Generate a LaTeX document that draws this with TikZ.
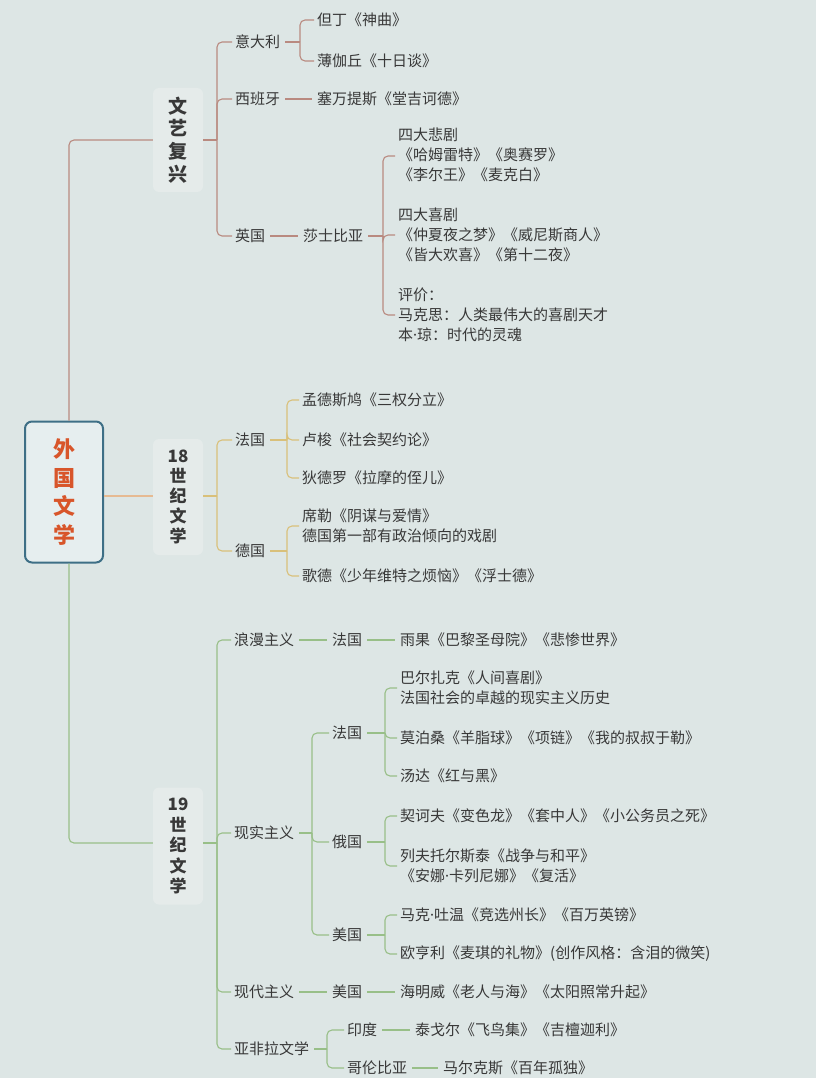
\documentclass[tikz,border=0pt]{standalone}
\usepackage{fontspec}
\setmainfont{Noto Sans CJK SC}
\newfontfamily\latf{Noto Sans}
\newcommand{\mdot}{{\latf\char"00B7}}
\definecolor{bg}{HTML}{DDE6E5}
\definecolor{txt}{HTML}{383838}
\definecolor{redl}{HTML}{B98A80}
\definecolor{yell}{HTML}{D9C07A}
\definecolor{orgl}{HTML}{E6BA92}
\definecolor{grnl}{HTML}{98BF88}
\definecolor{rootb}{HTML}{3E6F86}
\definecolor{rootf}{HTML}{E6EEEF}
\definecolor{roott}{HTML}{D8552A}
\definecolor{boxf}{HTML}{E5EBEA}
\begin{document}
\begin{tikzpicture}[x=1pt,y=-1pt,
 t/.style={anchor=west,inner xsep=3pt,inner ysep=1pt,font=\fontsize{15}{20}\selectfont,text=txt,align=left},
 cat/.style={fill=boxf,rounded corners=6pt,minimum width=50pt,text=txt,align=center,inner sep=0pt},
 rl/.style={draw=redl,line width=1.1pt,rounded corners=5pt},
 yl/.style={draw=yell,line width=1.1pt,rounded corners=5pt},
 gl/.style={draw=grnl,line width=1.1pt,rounded corners=5pt},
 sh/.style={shorten <=2pt,shorten >=2pt}
]
\fill[bg] (0,0) rectangle (816,1078);
\useasboundingbox (0,0) rectangle (816,1078);

% root
\node[draw=rootb,line width=2pt,fill=rootf,rounded corners=7pt,minimum width=78pt,minimum height=141pt,
  text=roott,font=\bfseries\fontsize{22}{28.5}\selectfont,align=center,inner sep=0pt] (root) at (64,492) {外\\国\\文\\学};

% categories
\node[cat,minimum height=104pt,font=\bfseries\fontsize{19}{22.7}\selectfont] (wyfx) at (178,140) {文\\艺\\复\\兴};
\node[cat,minimum height=116pt,font=\bfseries\fontsize{17}{20}\selectfont] (s18) at (178,497) {18\\世\\纪\\文\\学};
\node[cat,minimum height=117pt,font=\bfseries\fontsize{17}{20.5}\selectfont] (s19) at (178,846) {19\\世\\纪\\文\\学};

% trunk
\draw[rl] ([xshift=5pt]root.north) |- (wyfx.west);
\draw[draw=orgl,line width=1.1pt] ([yshift=1pt]root.east |- s18.west) -- ([yshift=1pt]s18.west);
\draw[gl] ([xshift=5pt]root.south) |- ([yshift=3pt]s19.west);

% ---------- Renaissance ----------
\node[t] (ydl) at (232,42) {意大利};
\node[t] (xby) at (232,99) {西班牙};
\node[t] (yg) at (232,236) {英国};
\node[t] (dd) at (314,20) {但丁《神曲》};
\node[t] (bjq) at (314,61) {薄伽丘《十日谈》};
\node[t] (swts) at (314,99) {塞万提斯《堂吉诃德》};
\node[t] (ssby) at (300,236) {莎士比亚};
\node[t] (bj) at (395,155) {四大悲剧\\《哈姆雷特》《奥赛罗》\\《李尔王》《麦克白》};
\node[t] (xj) at (395,235) {四大喜剧\\《仲夏夜之梦》《威尼斯商人》\\《皆大欢喜》《第十二夜》};
\node[t] (pj) at (395,315) {评价：\\马克思：人类最伟大的喜剧天才\\本\mdot 琼：时代的灵魂};

\coordinate (f1) at (217,140);
\draw[rl] (wyfx.east) -- (f1);
\draw[rl] (f1) |- (ydl.west);
\draw[rl] (f1) |- (xby.west);
\draw[rl] (f1) |- (yg.west);
\coordinate (f2) at (300,42);
\draw[rl,shorten <=2pt] (ydl.east) -- (f2);
\draw[rl] (f2) |- (dd.west);
\draw[rl] (f2) |- (bjq.west);
\draw[rl,sh] (xby.east) -- (swts.west);
\draw[rl,sh] (yg.east) -- (ssby.west);
\coordinate (f3) at (383,236);
\draw[rl,shorten <=2pt] (ssby.east) -- (f3);
\draw[rl] (f3) |- ([yshift=-1pt]bj.west);
\draw[rl] (f3) |- (xj.west);
\draw[rl] (f3) |- (pj.west);

% ---------- 18th century ----------
\node[t] (fg1) at (232,440) {法国};
\node[t] (dg1) at (232,551) {德国};
\node[t] (mdsj) at (299,400) {孟德斯鸠《三权分立》};
\node[t] (ls) at (299,440) {卢梭《社会契约论》};
\node[t] (ddl) at (299,478) {狄德罗《拉摩的侄儿》};
\node[t] (xl) at (299,526) {席勒《阴谋与爱情》\\德国第一部有政治倾向的戏剧};
\node[t] (gd) at (299,576) {歌德《少年维特之烦恼》《浮士德》};

\coordinate (g1) at (217,496);
\draw[yl] ([yshift=1pt]s18.east) -- (g1);
\draw[yl] (g1) |- (fg1.west);
\draw[yl] (g1) |- (dg1.west);
\coordinate (g2) at (287,440);
\draw[yl,shorten <=2pt] (fg1.east) -- (g2);
\draw[yl] (g2) |- (mdsj.west);
\draw[yl] (g2) |- (ls.west);
\draw[yl] (g2) |- (ddl.west);
\coordinate (g3) at (287,551);
\draw[yl,shorten <=2pt] (dg1.east) -- (g3);
\draw[yl] (g3) |- (xl.west);
\draw[yl] (g3) |- (gd.west);

% ---------- 19th century ----------
\node[t] (lm) at (231,640) {浪漫主义};
\node[t] (xs) at (231,833) {现实主义};
\node[t] (xd) at (231,992) {现代主义};
\node[t] (yfl) at (231,1049) {亚非拉文学};
\node[t] (fg2) at (329,640) {法国};
\node[t] (yguo) at (397,640) {雨果《巴黎圣母院》《悲惨世界》};
\node[t] (fg3) at (329,733) {法国};
\node[t] (eg) at (329,842) {俄国};
\node[t] (mg1) at (329,935) {美国};
\node[t] (bezk) at (397,688) {巴尔扎克《人间喜剧》\\法国社会的卓越的现实主义历史};
\node[t] (mbs) at (397,738) {莫泊桑《羊脂球》《项链》《我的叔叔于勒》};
\node[t] (td) at (397,776) {汤达《红与黑》};
\node[t] (qhf) at (397,816) {契诃夫《变色龙》《套中人》《小公务员之死》};
\node[t] (lf) at (397,866) {列夫托尔斯泰《战争与和平》\\《安娜\mdot 卡列尼娜》《复活》};
\node[t] (mktw) at (397,915) {马克\mdot 吐温《竞选州长》《百万英镑》};
\node[t] (ohl) at (397,954) {欧亨利《麦琪的礼物》(创作风格：含泪的微笑)};
\node[t] (mg2) at (329,992) {美国};
\node[t] (hmw) at (397,992) {海明威《老人与海》《太阳照常升起》};
\node[t] (yd) at (344,1030) {印度};
\node[t] (tge) at (412,1030) {泰戈尔《飞鸟集》《吉檀迦利》};
\node[t] (glby) at (344,1068) {哥伦比亚};
\node[t] (mkes) at (440,1068) {马尔克斯《百年孤独》};

\coordinate (h1) at (217,843);
\draw[gl] ([yshift=3pt]s19.east) -- (h1);
\draw[gl] (h1) |- (lm.west);
\draw[gl] (h1) |- (xs.west);
\draw[gl] (h1) |- (xd.west);
\draw[gl] (h1) |- (yfl.west);
\draw[gl,sh] (lm.east) -- (fg2.west);
\draw[gl,sh] (fg2.east) -- (yguo.west);
\coordinate (h2) at (312,833);
\draw[gl,shorten <=2pt] (xs.east) -- (h2);
\draw[gl] (h2) |- (fg3.west);
\draw[gl] (h2) |- (eg.west);
\draw[gl] (h2) |- (mg1.west);
\coordinate (h3) at (385,733);
\draw[gl,shorten <=2pt] (fg3.east) -- (h3);
\draw[gl] (h3) |- (bezk.west);
\draw[gl] (h3) |- (mbs.west);
\draw[gl] (h3) |- (td.west);
\coordinate (h4) at (385,842);
\draw[gl,shorten <=2pt] (eg.east) -- (h4);
\draw[gl] (h4) |- (qhf.west);
\draw[gl] (h4) |- (lf.west);
\coordinate (h5) at (385,935);
\draw[gl,shorten <=2pt] (mg1.east) -- (h5);
\draw[gl] (h5) |- (mktw.west);
\draw[gl] (h5) |- (ohl.west);
\draw[gl,sh] (xd.east) -- (mg2.west);
\draw[gl,sh] (mg2.east) -- (hmw.west);
\coordinate (h6) at (327,1049);
\draw[gl,shorten <=2pt] (yfl.east) -- (h6);
\draw[gl] (h6) |- (yd.west);
\draw[gl] (h6) |- (glby.west);
\draw[gl,sh] (yd.east) -- (tge.west);
\draw[gl,sh] (glby.east) -- (mkes.west);
\end{tikzpicture}
\end{document}
